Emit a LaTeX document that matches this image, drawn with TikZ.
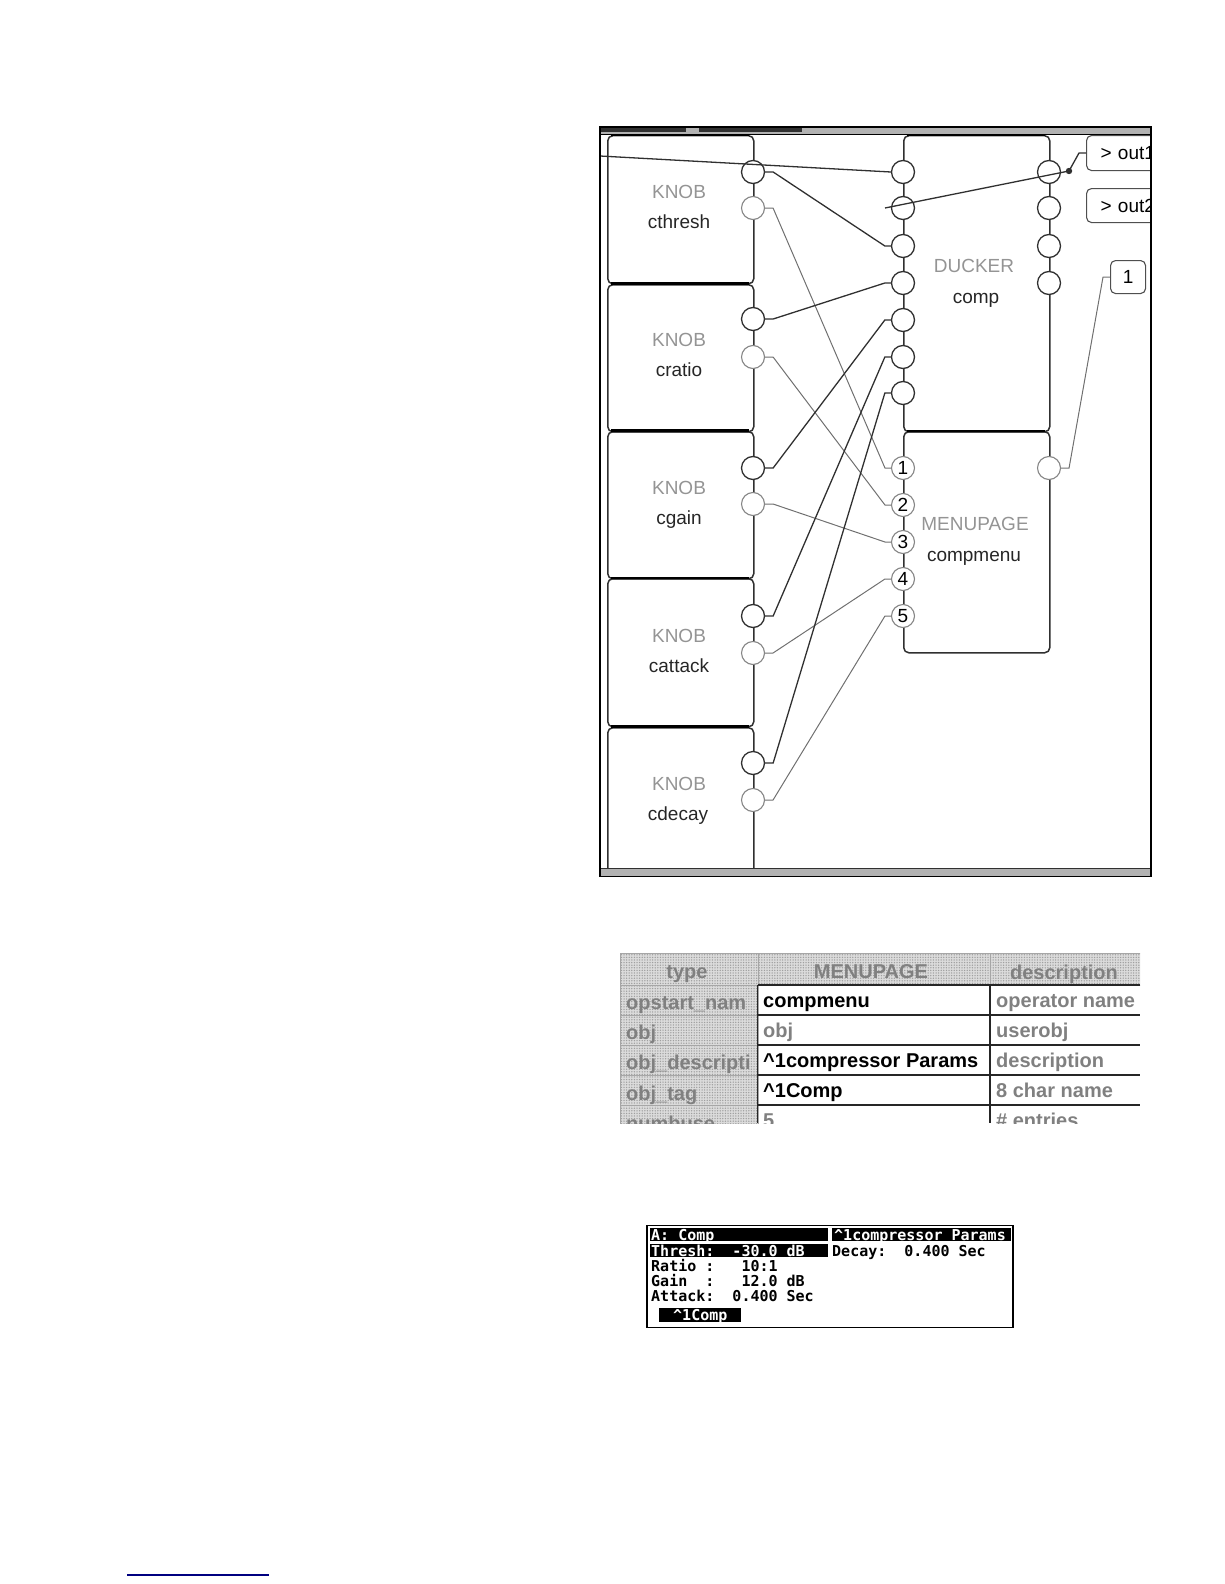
\documentclass[tikz,border=0pt]{standalone}
\usepackage{fontspec}
\setmainfont{Liberation Sans}
\newfontfamily\lcdfont{DejaVu Sans Mono}
\usetikzlibrary{patterns.meta}
\definecolor{wireK}{HTML}{303030}
\definecolor{wireG}{HTML}{707070}
\definecolor{txtG}{HTML}{949494}
\definecolor{hdrT}{HTML}{808080}
\tikzset{
  opbox/.style={draw=wireK,line width=1.5pt,rounded corners=5pt,inner sep=0pt,anchor=north west},
  portK/.style={circle,draw=wireK,line width=1.3pt,fill=white,minimum size=23pt,inner sep=0pt},
  portG/.style={circle,draw=wireG!85,line width=1.1pt,fill=white,minimum size=23pt,inner sep=0pt,font=\fontsize{19}{19}\selectfont},
  optype/.style={text=txtG,font=\fontsize{19}{19}\selectfont,inner sep=0pt},
  opname/.style={text=black!85,font=\fontsize{19}{19}\selectfont,inner sep=0pt},
  outbox/.style={draw=wireK!85,line width=1.1pt,rounded corners=5pt,inner sep=0pt,anchor=north west,font=\fontsize{19}{19}\selectfont},
  wireD/.style={draw=wireK,line width=1.3pt},
  wireL/.style={draw=wireG,line width=1pt},
  hdrcell/.style={anchor=north west,inner sep=0pt,draw=gray!70,line width=1pt,preaction={fill=gray!28},pattern={Dots[distance=2.6pt,radius=.75pt]},pattern color=gray!75},
  hdrtxt/.style={text=hdrT,font=\fontsize{20}{20}\selectfont\bfseries,inner sep=0pt},
  rowtxt/.style={text=hdrT,font=\fontsize{20}{20}\selectfont\bfseries,inner sep=0pt,anchor=base west},
  valK/.style={text=black,font=\fontsize{20}{20}\selectfont\bfseries,inner sep=0pt,anchor=base west},
  valG/.style={text=hdrT,font=\fontsize{20}{20}\selectfont\bfseries,inner sep=0pt,anchor=base west},
  lcdK/.style={text=black,font=\lcdfont\fontsize{15}{15}\selectfont\bfseries,inner sep=0pt,anchor=base west},
  lcdW/.style={text=white,font=\lcdfont\fontsize{15}{15}\selectfont\bfseries,inner sep=0pt,anchor=base west},
  lcdbar/.style={fill=black,draw=none,inner sep=0pt,anchor=north west}
}
\newcommand{\wirepath}[3]{\draw[#1] (#2.east) -- ([xshift=8pt]#2.east) -- ([xshift=-6pt]#3.west) -- (#3.west);}
\newcommand{\cell}[5]{\node[#1,minimum width=#4 pt,minimum height=#5 pt] at (#2,#3) {};}
\begin{document}
\begin{tikzpicture}[x=1pt,y=-1pt]
\useasboundingbox (0,0) rectangle (1224,1584);
% frame contents
\begin{scope}
\clip (600,127) rectangle (1151,876);
\node[opbox,minimum width=146pt,minimum height=148pt] (b1) at (607,135) {};
\node[opbox,minimum width=146pt,minimum height=147pt] (b2) at (607,284) {};
\node[opbox,minimum width=146pt,minimum height=147pt] (b3) at (607,431) {};
\node[opbox,minimum width=146pt,minimum height=148pt] (b4) at (607,578) {};
\node[opbox,minimum width=146pt,minimum height=170pt] (b5) at (607,727) {};
\node[opbox,minimum width=146pt,minimum height=296pt] (b6) at (903,135) {};
\node[opbox,minimum width=146pt,minimum height=221pt] (b7) at (903,431) {};
\draw[black,line width=2.4pt] (611,135) -- (749,135) (611,283.5) -- (749,283.5) (611,430.5) -- (749,430.5) (611,578) -- (749,578) (611,726.5) -- (749,726.5) (907,135) -- (1045,135) (907,431) -- (1045,431);
\node[optype] (t1) at (679,192) {KNOB};
\node[opname] (n1) at (679,222) {cthresh};
\node[optype] (t2) at (679,339.5) {KNOB};
\node[opname] (n2) at (679,370) {cratio};
\node[optype] (t3) at (679,488) {KNOB};
\node[opname] (n3) at (679,520) {cgain};
\node[optype] (t4) at (679,635.5) {KNOB};
\node[opname] (n4) at (679,666) {cattack};
\node[optype] (t5) at (679,784) {KNOB};
\node[opname] (n5) at (678,816) {cdecay};
\node[optype] (t6) at (974,266) {DUCKER};
\node[opname] (n6) at (976,300) {comp};
\node[optype] (t7) at (975,524) {MENUPAGE};
\node[opname] (n7) at (974,558) {compmenu};
% ports
\node[portK] (k1a) at (753,172) {};
\node[portG] (k1b) at (753,208) {};
\node[portK] (k2a) at (753,319) {};
\node[portG] (k2b) at (753,357) {};
\node[portK] (k3a) at (753,468) {};
\node[portG] (k3b) at (753,504) {};
\node[portK] (k4a) at (753,616) {};
\node[portG] (k4b) at (753,653) {};
\node[portK] (k5a) at (753,763) {};
\node[portG] (k5b) at (753,800) {};
\node[portK] (d1) at (903,172) {};
\node[portK] (d2) at (903,208) {};
\node[portK] (d3) at (903,246) {};
\node[portK] (d4) at (903,283) {};
\node[portK] (d5) at (903,320) {};
\node[portK] (d6) at (903,357) {};
\node[portK] (d7) at (903,393) {};
\node[portK] (o1) at (1049,172) {};
\node[portK] (o2) at (1049,208) {};
\node[portK] (o3) at (1049,246) {};
\node[portK] (o4) at (1049,283) {};
\node[portG] (m1) at (903,468) {1};
\node[portG] (m2) at (903,505) {2};
\node[portG] (m3) at (903,542) {3};
\node[portG] (m4) at (903,579) {4};
\node[portG] (m5) at (903,616) {5};
\node[portG] (mo) at (1049,468) {};
% outputs
\node[outbox,minimum width=90pt,minimum height=35pt,text width=86pt,align=left] (x1) at (1086,135) {\hspace*{12pt}> out1};
\node[outbox,minimum width=90pt,minimum height=34pt,text width=86pt,align=left] (x2) at (1086,188) {\hspace*{12pt}> out2};
\node[outbox,minimum width=35pt,minimum height=33pt,align=center] (x3) at (1110,260) {1};
% wires
\wirepath{wireD}{k1a}{d3}
\wirepath{wireL}{k1b}{m1}
\wirepath{wireD}{k2a}{d4}
\wirepath{wireL}{k2b}{m2}
\wirepath{wireD}{k3a}{d5}
\wirepath{wireL}{k3b}{m3}
\wirepath{wireD}{k4a}{d6}
\wirepath{wireL}{k4b}{m4}
\wirepath{wireD}{k5a}{d7}
\wirepath{wireL}{k5b}{m5}
\coordinate (inL) at (600,156);
\coordinate (free2) at (885,208);
\coordinate (dot) at (1069,171);
\draw[wireD] (inL) -- (d1.west);
\draw[wireD] (free2) -- (dot) -- (1079,153) -- (x1.west);
\fill[wireK] (dot) circle (3.2pt);
\draw[wireL] (mo.east) -- ([xshift=8pt]mo.east) -- ([xshift=-7pt]x3.west) -- (x3.west);
\end{scope}
% window frame
\fill[gray!60] (600,128) rectangle (1151,134);
\fill[wireK] (600,127) rectangle (686,132);
\fill[wireK] (699,127) rectangle (802,132);
\fill[gray!60] (600,868) rectangle (1151,876);
\draw[black,line width=1pt] (600,134.5) -- (1151,134.5);
\draw[wireK,line width=1pt] (600,868) -- (1151,868);
\draw[black,line width=1.8pt] (600,127) rectangle (1151,876.5);
% table
\begin{scope}
\clip (619,952) rectangle (1140,1123);
\cell{hdrcell}{620}{953}{137.5}{32}
\cell{hdrcell}{757.5}{953}{232.5}{32}
\cell{hdrcell}{990}{953}{160}{32}
\cell{hdrcell}{620}{985}{137.5}{30}
\cell{hdrcell}{620}{1015}{137.5}{30}
\cell{hdrcell}{620}{1045}{137.5}{30}
\cell{hdrcell}{620}{1075}{137.5}{30}
\cell{hdrcell}{620}{1105}{137.5}{30}
\draw[black!85,line width=1.6pt] (757.5,985) -- (1140,985) (757.5,1015) -- (1140,1015) (757.5,1045) -- (1140,1045) (757.5,1075) -- (1140,1075) (757.5,1105) -- (1140,1105) (757.5,985) -- (757.5,1123) (990,985) -- (990,1123);
\node[hdrtxt] (h1) at (687,974) {type};
\node[hdrtxt] (h2) at (871,972) {MENUPAGE};
\node[hdrtxt] (h3) at (1064,974) {description};
\begin{scope}
\clip (620,985) rectangle (756,1123);
\node[rowtxt] (r1) at (626,1009) {opstart\_nam};
\node[rowtxt] (r2) at (626,1039) {obj};
\node[rowtxt] (r3) at (626,1069) {obj\_descripti};
\node[rowtxt] (r4) at (626,1100) {obj\_tag};
\node[rowtxt] (r5) at (626,1130) {numbuse};
\end{scope}
\node[valK] (c1) at (763,1007) {compmenu};
\node[valG] (c2) at (763,1037) {obj};
\node[valK] (c3) at (763,1067) {\^{}1compressor Params};
\node[valK] (c4) at (763,1097) {\^{}1Comp};
\node[valG] (c5) at (763,1127) {5};
\node[valG] (e1) at (996,1007) {operator name};
\node[valG] (e2) at (996,1037) {userobj};
\node[valG] (e3) at (996,1067) {description};
\node[valG] (e4) at (996,1097) {8 char name};
\node[valG] (e5) at (996,1127) {\# entries};
\end{scope}
% LCD
\draw[black,line width=1.8pt] (647,1225.5) rectangle (1013,1327.5);
\node[lcdbar,minimum width=178pt,minimum height=13pt] (lb1) at (650,1228) {};
\node[lcdbar,minimum width=179pt,minimum height=13pt] (lb2) at (832,1228) {};
\node[lcdbar,minimum width=178pt,minimum height=13pt] (lb3) at (650,1244) {};
\node[lcdbar,minimum width=82pt,minimum height=14pt] (lb4) at (659,1308) {};
\node[lcdW] (l1) at (651,1240.5) {A: Comp};
\node[lcdW] (l2) at (834,1240.5) {\^{}1compressor Params};
\node[lcdW] (l3) at (651,1256.5) {Thresh:~~-30.0 dB};
\node[lcdK] (l4) at (832,1256.5) {Decay:~~0.400 Sec};
\node[lcdK] (l5) at (651,1271.5) {Ratio~:~~~10:1};
\node[lcdK] (l6) at (651,1286.5) {Gain~~:~~~12.0 dB};
\node[lcdK] (l7) at (651,1301.5) {Attack:~~0.400 Sec};
\node[lcdW] (l8) at (673,1320) {\^{}1Comp};
% footer rule
\draw[blue!50!black,line width=1.5pt] (127,1575) -- (269,1575);
\end{tikzpicture}
\end{document}
